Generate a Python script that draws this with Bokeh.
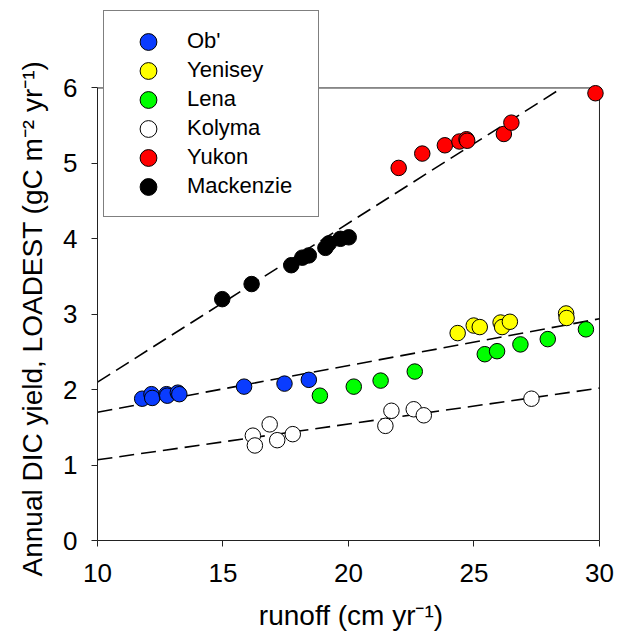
from bokeh.plotting import figure
from bokeh.models import Legend, LegendItem, ColumnDataSource, FixedTicker, Title
from bokeh.embed import file_html
from bokeh.resources import INLINE
import numpy as np

# ---------------- data ----------------
ob_x = [11.78, 12.15, 12.18, 12.75, 12.78, 13.20, 13.26, 15.84, 17.45, 18.42]
ob_y = [1.88, 1.94, 1.89, 1.94, 1.92, 1.96, 1.94, 2.04, 2.08, 2.13]

yen_x = [24.35, 24.99, 25.23, 26.06, 26.12, 26.43, 28.67, 28.69]
yen_y = [2.75, 2.85, 2.83, 2.89, 2.83, 2.90, 3.01, 2.95]

lena_x = [18.86, 20.21, 21.28, 22.64, 25.43, 25.92, 26.85, 27.94, 29.46]
lena_y = [1.92, 2.04, 2.12, 2.24, 2.47, 2.51, 2.60, 2.67, 2.80]

kol_x = [16.19, 16.27, 16.86, 17.16, 17.78, 21.47, 21.71, 22.60, 23.00, 27.29]
kol_y = [1.39, 1.26, 1.54, 1.33, 1.41, 1.52, 1.72, 1.74, 1.66, 1.88]

yuk_x = [22.00, 22.94, 23.84, 24.42, 24.70, 24.73, 26.19, 26.49, 29.84]
yuk_y = [4.94, 5.13, 5.24, 5.29, 5.32, 5.30, 5.39, 5.54, 5.93]

mac_x = [14.97, 16.14, 17.72, 18.16, 18.42, 19.08, 19.22, 19.68, 20.01]
mac_y = [3.20, 3.40, 3.65, 3.75, 3.78, 3.88, 3.94, 4.00, 4.02]

series_names = ["Ob'", "Yenisey", "Lena", "Kolyma", "Yukon", "Mackenzie"]
series_x = [ob_x, yen_x, lena_x, kol_x, yuk_x, mac_x]
series_y = [ob_y, yen_y, lena_y, kol_y, yuk_y, mac_y]
series_colors = ["#0a3cff", "#ffff00", "#00ff00", "#ffffff", "#ff0000", "#000000"]

# fitted regression lines: y = a + b * x
fit_a = [-0.008, 1.08, 0.595]
fit_b = [0.2108, 0.062, 0.0475]

x_ticks = [10, 15, 20, 25, 30]
y_ticks = [0, 1, 2, 3, 4, 5, 6]
X_MIN, X_MAX = 10, 30
Y_MIN, Y_MAX = 0, 6

x_label = "runoff (cm yr\u207b\u00b9)"
y_label = "Annual DIC yield, LOADEST (gC m\u207b\u00b2 yr\u207b\u00b9)"

# ---------------- figure ----------------
# the frame reaches up to the top of the page so the legend box (which sits
# above the data box) is not clipped; the axis itself stops at 6
p = figure(width=617, height=634, output_backend="svg", toolbar_location=None,
           x_range=(X_MIN, 30.2), y_range=(Y_MIN, 7.08),
           min_border_left=97, min_border_right=13, min_border_top=6, min_border_bottom=94)
p.outline_line_color = None
p.xgrid.visible = False
p.ygrid.visible = False
p.background_fill_color = "white"
p.border_fill_color = "white"

FONT = "Liberation Sans"
for ax in (p.xaxis[0], p.yaxis[0]):
    ax.major_tick_in = 0
    ax.major_tick_out = 6
    ax.minor_tick_line_color = None
    ax.axis_line_color = "#222222"
    ax.major_tick_line_color = "#222222"
    ax.major_label_text_font = FONT
    ax.major_label_text_font_size = "26px"
    ax.major_label_text_color = "black"
    ax.axis_label_text_font = FONT
    ax.axis_label_text_font_size = "28px"
    ax.axis_label_text_font_style = "normal"
    ax.axis_label_text_color = "black"

p.xaxis.ticker = FixedTicker(ticks=x_ticks)
p.yaxis.ticker = FixedTicker(ticks=y_ticks)
p.xaxis.bounds = (X_MIN, X_MAX)
p.yaxis.bounds = (Y_MIN, Y_MAX)
p.xaxis.major_label_standoff = 17
p.yaxis.major_label_standoff = 14
p.xaxis.axis_label_standoff = 15
p.xaxis.axis_label = x_label

# y label as a left-side title so that it can be placed along the 0..6 box
p.add_layout(Title(text=y_label, align="left", offset=-36, standoff=26,
                   text_font=FONT, text_font_size="28px", text_font_style="normal",
                   text_color="black"), "left")

# box top and right borders
p.line([X_MIN, X_MAX], [Y_MAX, Y_MAX], line_color="#222222", line_width=1)
p.line([X_MAX, X_MAX], [Y_MIN, Y_MAX], line_color="#222222", line_width=1)

# regression lines (clipped at the top of the box)
for a, b in zip(fit_a, fit_b):
    x_end = min(X_MAX, (Y_MAX - a) / b)
    xs = np.array([X_MIN, x_end])
    p.line(xs, a + b * xs, line_color="black", line_width=1.6, line_dash="15 7")

# scatter series (circles of fixed screen diameter)
renderers = []
for name, xs, ys, c in zip(series_names, series_x, series_y, series_colors):
    src = ColumnDataSource(dict(x=xs, y=ys))
    r = p.ellipse("x", "y", source=src, width=15.5, height=15.5,
                  width_units="screen", height_units="screen",
                  fill_color=c, line_color="black", line_width=1)
    renderers.append(r)

legend = Legend(items=[LegendItem(label=n, renderers=[r]) for n, r in zip(series_names, renderers)],
                location=(6, 323))
legend.padding = 17
legend.spacing = 3
legend.glyph_height = 21
legend.glyph_width = 54
legend.label_height = 21
legend.label_width = 114
legend.label_standoff = 12
legend.label_text_font = FONT
legend.label_text_font_size = "22px"
legend.label_text_color = "black"
legend.border_line_color = "black"
legend.border_line_width = 1
legend.background_fill_color = "white"
legend.background_fill_alpha = 1.0
p.add_layout(legend, "center")

open("out.html", "w").write(file_html(p, INLINE))
